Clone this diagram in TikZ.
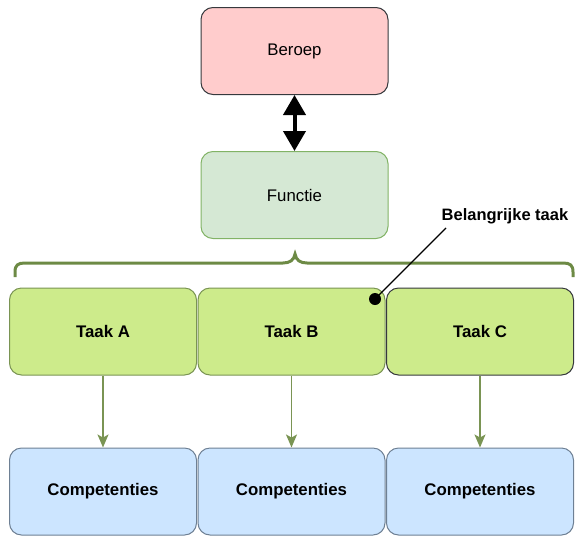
\documentclass[tikz,border=0pt]{standalone}
\usepackage{fontspec}
\setmainfont{Liberation Sans}
\usetikzlibrary{arrows.meta}
\definecolor{redfill}{HTML}{FFCCCC}
\definecolor{darkline}{HTML}{36393D}
\definecolor{greenfill}{HTML}{D5E8D4}
\definecolor{greenline}{HTML}{82B366}
\definecolor{taakfill}{HTML}{CDEB8B}
\definecolor{olive}{HTML}{7A9453}
\definecolor{bracecol}{HTML}{6D8A45}
\definecolor{bluefill}{HTML}{CCE5FF}
\definecolor{blueline}{HTML}{6E8094}
\tikzset{
  box/.style={rounded corners=12pt, line width=1pt, minimum width=187pt, minimum height=87pt,
    inner sep=0pt, font=\fontsize{16.8}{20}\selectfont, text=black},
  rolebox/.style={box, fill=redfill, draw=darkline},
  funcbox/.style={box, fill=greenfill, draw=greenline},
  taakbox/.style={box, fill=taakfill, draw=olive, font=\fontsize{16.8}{20}\selectfont\bfseries},
  keytaak/.style={taakbox, draw=darkline},
  compbox/.style={box, fill=bluefill, draw=blueline, font=\fontsize{16.8}{20}\selectfont\bfseries},
  flow/.style={draw=olive, line width=1.5pt, -{Stealth[length=13pt,width=11pt,inset=3pt]}},
  twoway/.style={line width=4pt, {Triangle[length=20pt,width=22pt]}-{Triangle[length=20pt,width=22pt]}},
}
\begin{document}
\begin{tikzpicture}[x=1pt,y=-1pt]
\useasboundingbox (0,0) rectangle (575,536);
% top level
\node[rolebox] (beroep) at (294.5,51) {Beroep};
\node[funcbox] (functie) at (294.5,195) {Functie};
\draw[twoway] (beroep.south) -- (functie.north);
% curly brace over the tasks
\draw[bracecol, line width=3pt]
  (15,277) -- (15,272) .. controls (15,265) and (18,263) .. (25,263)
  -- (283,263) .. controls (290,263) and (294,260) .. (295,254)
  .. controls (296,260) and (300,263) .. (307,263)
  -- (563,263) .. controls (570,263) and (573,265) .. (573,272) -- (573,277);
% tasks
\node[taakbox] (taakA) at (103,331.5) {Taak A};
\node[taakbox] (taakB) at (291.5,331.5) {Taak B};
\node[keytaak] (taakC) at (480,331.5) {Taak C};
% competences
\node[compbox] (compA) at (103,491.5) {Competenties};
\node[compbox] (compB) at (291.5,491.5) {Competenties};
\node[compbox] (compC) at (480,491.5) {Competenties};
\draw[flow] (taakA) -- (compA);
\draw[flow] (taakB) -- (compB);
\draw[flow] (taakC) -- (compC);
% callout
\node[font=\fontsize{16.5}{20}\selectfont\bfseries, anchor=center] (label) at (505,216) {Belangrijke taak};
\coordinate (tip) at (446,228);
\node[circle, fill=black, minimum size=12pt, inner sep=0pt] (dot) at (375,299) {};
\draw[line width=1.2pt] (dot.center) -- (tip);
\end{tikzpicture}
\end{document}
